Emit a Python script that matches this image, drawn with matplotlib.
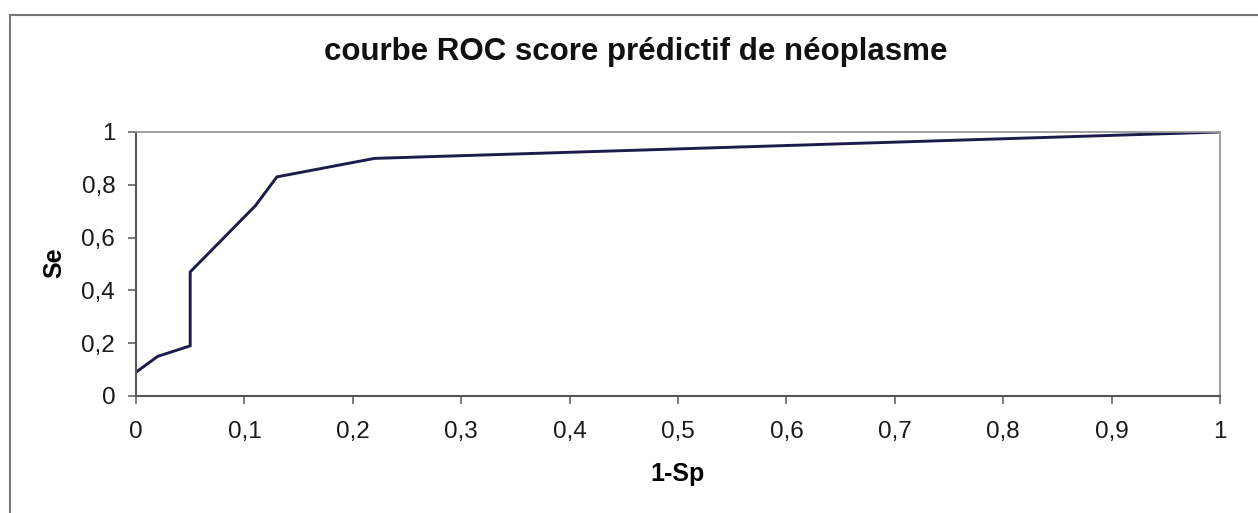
import matplotlib.pyplot as plt
from matplotlib.lines import Line2D

plt.rcParams['font.family'] = ['Liberation Sans', 'DejaVu Sans']

# ROC points
fpr = [0, 0.02, 0.05, 0.05, 0.11, 0.13, 0.22, 1.0]
tpr = [0.09, 0.15, 0.19, 0.47, 0.72, 0.83, 0.90, 1.0]

x_ticks = [0, 0.1, 0.2, 0.3, 0.4, 0.5, 0.6, 0.7, 0.8, 0.9, 1.0]
x_labels = ['0', '0,1', '0,2', '0,3', '0,4', '0,5', '0,6', '0,7', '0,8', '0,9', '1']
y_ticks = [0, 0.2, 0.4, 0.6, 0.8, 1.0]
y_labels = ['0', '0,2', '0,4', '0,6', '0,8', '1']

fig = plt.figure(figsize=(12.58, 5.13), dpi=100)
ax = fig.add_axes([0.1081, 0.2281, 0.8617, 0.5146])

ax.plot(fpr, tpr, color='#1c1c4a', linewidth=2.1, solid_joinstyle='miter')
ax.set_xlim(0, 1)
ax.set_ylim(0, 1)

ax.set_xticks(x_ticks)
ax.set_xticklabels(x_labels)
ax.set_yticks(y_ticks)
ax.set_yticklabels(y_labels)
ax.tick_params(axis='both', direction='out', length=6, width=1.2, color='#666666',
               labelsize=17.5, labelcolor='#1a1a1a')
ax.tick_params(axis='x', pad=12)
ax.tick_params(axis='y', pad=9)

for side in ['left', 'bottom']:
    ax.spines[side].set_color('#555555')
    ax.spines[side].set_linewidth(1.5)
for side in ['top', 'right']:
    ax.spines[side].set_color('#9a9a9a')
    ax.spines[side].set_linewidth(1.3)

ax.set_xlabel('1-Sp', fontsize=18, fontweight='bold', va='center')
ax.xaxis.set_label_coords(0.5, -0.295)
ax.set_ylabel('Se', fontsize=18, fontweight='bold', va='center')
ax.yaxis.set_label_coords(-0.0755, 0.504)

fig.text(0.5056, 0.8986, 'courbe ROC score prédictif de néoplasme',
         ha='center', va='center', fontsize=22.5, fontweight='bold', color='#111111')

# outer chart frame (top and left edges visible)
fig.add_artist(Line2D([0.008, 1.0], [0.9708, 0.9708], transform=fig.transFigure,
                      color='#777777', linewidth=1.5))
fig.add_artist(Line2D([0.008, 0.008], [0.0, 0.9708], transform=fig.transFigure,
                      color='#777777', linewidth=1.5))

fig.savefig('out.png', dpi=100)
